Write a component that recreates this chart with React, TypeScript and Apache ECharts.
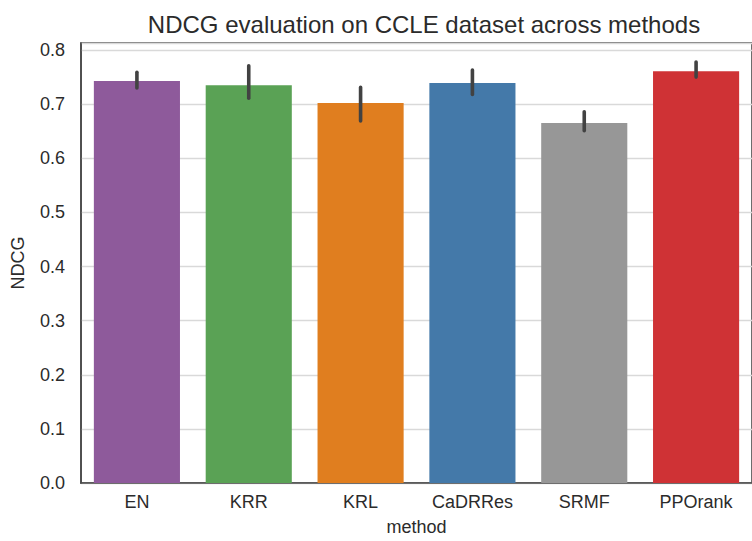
import React, { useEffect, useRef } from "react";
import * as echarts from "echarts";

const methods = ["EN", "KRR", "KRL", "CaDRRes", "SRMF", "PPOrank"];
const ndcgMean = [0.743, 0.735, 0.702, 0.739, 0.665, 0.761];
const ciLow = [0.73, 0.711, 0.669, 0.718, 0.651, 0.75];
const ciHigh = [0.759, 0.771, 0.731, 0.763, 0.686, 0.778];
const barColors = ["#8e5a9b", "#5aa255", "#e07e1f", "#4479a9", "#979797", "#cf3235"];
const yTicks = [0, 0.1, 0.2, 0.3, 0.4, 0.5, 0.6, 0.7, 0.8];

const FONT = "Liberation Sans, Arial, sans-serif";

export default function App() {
  const ref = useRef<HTMLDivElement>(null);
  useEffect(() => {
    if (!ref.current) return;
    const chart = echarts.init(ref.current, undefined, { renderer: "svg" });
    const errData = methods.map((_, i) => [i, ciLow[i], ciHigh[i]]);
    chart.setOption({
      animation: false,
      backgroundColor: "#ffffff",
      title: {
        text: "NDCG evaluation on CCLE dataset across methods",
        left: 419,
        textAlign: "center",
        top: 7,
        textStyle: { fontFamily: FONT, fontSize: 24, fontWeight: "normal", color: "#2b2b2b" },
      },
      grid: {
        left: 81,
        right: -7,
        top: 43,
        bottom: 57,
        show: true,
        borderColor: "#4a4a4a",
        borderWidth: 1.6,
        backgroundColor: "transparent",
      },
      xAxis: {
        type: "category",
        data: methods,
        boundaryGap: true,
        name: "method",
        nameLocation: "middle",
        nameGap: 35,
        nameTextStyle: { fontFamily: FONT, fontSize: 18, color: "#2b2b2b" },
        axisLine: { show: true, lineStyle: { color: "#4a4a4a", width: 1.6 } },
        axisTick: { show: false },
        axisLabel: { fontFamily: FONT, fontSize: 18, color: "#2b2b2b", margin: 10 },
        splitLine: { show: false },
      },
      yAxis: {
        type: "value",
        min: 0,
        max: 0.813,
        interval: 0.1,
        name: "NDCG",
        nameLocation: "middle",
        nameGap: 54,
        nameTextStyle: { fontFamily: FONT, fontSize: 18, color: "#2b2b2b" },
        axisLine: { show: true, lineStyle: { color: "#4a4a4a", width: 1.6 } },
        axisTick: { show: false },
        axisLabel: {
          fontFamily: FONT,
          fontSize: 18,
          color: "#2b2b2b",
          margin: 16,
          showMaxLabel: false,
          formatter: (v: number) => {
            const t = yTicks.find((x) => Math.abs(x - v) < 1e-6);
            return t === undefined ? "" : t.toFixed(1);
          },
        },
        splitLine: { show: true, lineStyle: { color: "#d9d9d9", width: 1.3 } },
      },
      series: [
        {
          type: "bar",
          data: ndcgMean.map((v, i) => ({ value: v, itemStyle: { color: barColors[i] } })),
          barWidth: "77%",
          z: 2,
        },
        {
          type: "custom",
          data: errData,
          z: 5,
          renderItem: (params: any, api: any) => {
            const x = api.value(0);
            const p1 = api.coord([x, api.value(1)]);
            const p2 = api.coord([x, api.value(2)]);
            return {
              type: "line",
              shape: { x1: p1[0], y1: p1[1], x2: p2[0], y2: p2[1] },
              style: { stroke: "#424242", lineWidth: 3.6, lineCap: "round" },
            };
          },
        },
      ],
    });
    return () => chart.dispose();
  }, []);
  return (
    <div
      ref={ref}
      style={{ position: "fixed", left: 0, top: 0, width: 752, height: 541, background: "#fff" }}
    />
  );
}
